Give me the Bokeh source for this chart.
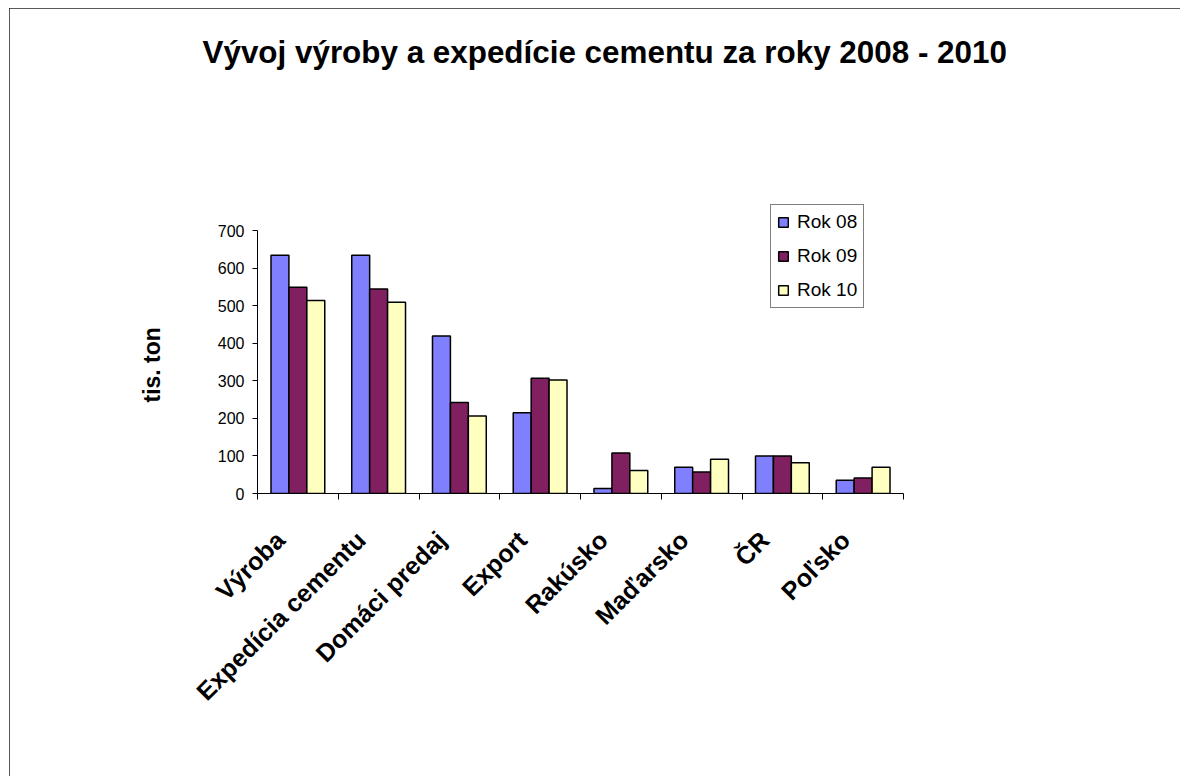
from math import pi
from bokeh.plotting import figure
from bokeh.models import ColumnDataSource, FixedTicker, Legend, LegendItem, Range1d, Title
from bokeh.transform import dodge
from bokeh.embed import file_html
from bokeh.resources import INLINE

# ---- data ----
categories = ["Výroba", "Expedícia cementu", "Domáci predaj", "Export",
              "Rakúsko", "Maďarsko", "ČR", "Poľsko"]
series_names = ["Rok 08", "Rok 09", "Rok 10"]
rok08 = [634, 634, 419, 215, 13, 70, 100, 35]
rok09 = [549, 544, 242, 307, 108, 57, 100, 41]
rok10 = [514, 509, 206, 302, 61, 91, 82, 70]
y_ticks = [0, 100, 200, 300, 400, 500, 600, 700]
title_text = "Vývoj výroby a expedície cementu za roky 2008 - 2010"
y_label = "tis. ton"

# ---- styles / layout ----
FONT = "Liberation Sans"
colors = ["#8080FF", "#802060", "#FFFFC0"]
W, H = 1171, 768
bar_w = 0.222
label_shift = -0.22          # category-label anchor offset (in category widths)
B_LEFT, B_RIGHT, B_TOP, B_BOTTOM = 248, 277, 65, 283
frame_h = H - B_TOP - B_BOTTOM
axis_px = 263                # pixel height of the 0..700 value axis
y_end = y_ticks[-1] * frame_h / axis_px

x_centers = [i + 0.5 for i in range(len(categories))]
label_pos = [xc + label_shift for xc in x_centers]
source = ColumnDataSource(dict(x=x_centers, r08=rok08, r09=rok09, r10=rok10))

p = figure(width=W, height=H,
           x_range=Range1d(0, len(categories)), y_range=Range1d(0, y_end),
           output_backend="svg", toolbar_location=None,
           min_border_left=B_LEFT, min_border_right=B_RIGHT,
           min_border_top=B_TOP, min_border_bottom=B_BOTTOM,
           title=title_text)
p.margin = (8, 0, 0, 9)
p.outline_line_color = None
p.grid.visible = False
p.background_fill_color = "white"
p.border_fill_color = "white"
p.styles = {"outline": "1px solid #222", "outline-offset": "-1px"}

p.title.align = "left"
p.title.offset = -55
p.title.vertical_align = "bottom"
p.title.standoff = 8
p.title.text_font = FONT
p.title.text_font_style = "bold"
p.title.text_font_size = "31.4px"
p.title.text_color = "black"

items = []
for k, (name, field, col) in enumerate(zip(series_names, ["r08", "r09", "r10"], colors)):
    r = p.vbar(x=dodge("x", (k - 1) * bar_w), top=field, width=bar_w, source=source,
               fill_color=col, line_color="black", line_width=1.5)
    items.append(LegendItem(label=name, renderers=[r]))

# y axis
yax = p.yaxis[0]
yax.bounds = (y_ticks[0], y_ticks[-1])
yax.ticker = FixedTicker(ticks=y_ticks)
yax.minor_tick_line_color = None
yax.major_tick_in = 0
yax.major_tick_out = 5
yax.major_label_text_font = FONT
yax.major_label_text_font_size = "16px"
yax.major_label_text_color = "black"
yax.major_label_standoff = 8
yax.axis_line_color = "black"
yax.major_tick_line_color = "black"
yax.axis_label = None

# y axis title as a left-side title (so it can sit centred on the 0..700 span)
ytitle = Title(text=y_label, align="left", vertical_align="bottom",
               offset=91, standoff=100,
               text_font=FONT, text_font_style="bold", text_font_size="23px",
               text_color="black")
p.add_layout(ytitle, "left")

# x axis
xax = p.xaxis[0]
xax.ticker = FixedTicker(ticks=label_pos, minor_ticks=list(range(len(categories) + 1)))
xax.major_label_overrides = {lp: c for lp, c in zip(label_pos, categories)}
xax.major_label_orientation = pi / 4
xax.major_tick_in = 0
xax.major_tick_out = 0
xax.major_tick_line_color = None
xax.minor_tick_in = 0
xax.minor_tick_out = 6
xax.minor_tick_line_color = "black"
xax.axis_line_color = "black"
xax.major_label_text_font = FONT
xax.major_label_text_font_style = "bold"
xax.major_label_text_font_size = "25px"
xax.major_label_text_color = "black"
xax.major_label_standoff = 36

# legend
legend = Legend(items=items, location=(513, 185),
                label_text_font=FONT, label_text_font_size="19px",
                label_text_color="black",
                glyph_width=12, glyph_height=12, label_height=20,
                spacing=12, padding=6, label_standoff=8, margin=0,
                border_line_color="black", border_line_width=1,
                background_fill_color="white", background_fill_alpha=1)
p.add_layout(legend, "center")

open("out.html", "w").write(file_html(p, INLINE))
